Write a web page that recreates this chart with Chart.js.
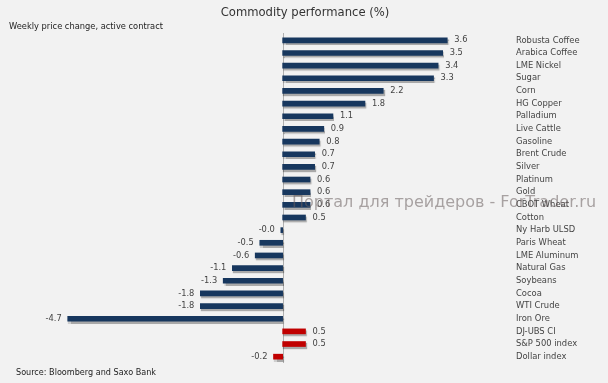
<!DOCTYPE html>
<html>
<head>
<meta charset="utf-8">
<script src="https://cdn.jsdelivr.net/npm/chart.js@4"></script>
<style>
html,body{margin:0;padding:0;background:#f2f2f2;}
#c{display:block;}
</style>
</head>
<body>
<canvas id="c" width="608" height="383"></canvas>
<script>
const categories = ["Robusta Coffee","Arabica Coffee","LME Nickel","Sugar","Corn","HG Copper","Palladium","Live Cattle","Gasoline","Brent Crude","Silver","Platinum","Gold","CBOT Wheat","Cotton","Ny Harb ULSD","Paris Wheat","LME Aluminum","Natural Gas","Soybeans","Cocoa","WTI Crude","Iron Ore","DJ-UBS CI","S&P 500 index","Dollar index"];
const values = [3.6,3.5,3.4,3.3,2.2,1.8,1.1,0.9,0.8,0.7,0.7,0.6,0.6,0.6,0.5,-0.04,-0.5,-0.6,-1.1,-1.3,-1.8,-1.8,-4.7,0.5,0.5,-0.2];
const groups = ["c","c","c","c","c","c","c","c","c","c","c","c","c","c","c","c","c","c","c","c","c","c","c","i","i","i"];
const titleText = "Commodity performance (%)";
const subtitleText = "Weekly price change, active contract";
const sourceText = "Source: Bloomberg and Saxo Bank";
const watermarkText = "Портал для трейдеров - ForTrader.ru";

const FONT = "'DejaVu Sans', sans-serif";

const decor = {
  id: 'decor',
  beforeDraw(chart) {
    const ctx = chart.ctx;
    ctx.save();
    ctx.fillStyle = '#f2f2f2';
    ctx.fillRect(0, 0, chart.width, chart.height);
    ctx.fillStyle = '#333';
    ctx.font = '11.6px ' + FONT;
    ctx.textAlign = 'center';
    ctx.textBaseline = 'middle';
    ctx.fillText(titleText, 305, 13);
    ctx.fillStyle = '#222';
    ctx.font = '8.3px ' + FONT;
    ctx.textAlign = 'left';
    ctx.fillText(subtitleText, 9, 27);
    ctx.font = '8.1px ' + FONT;
    ctx.fillText(sourceText, 16, 373);
    // zero line
    const x0 = chart.scales.x.getPixelForValue(0);
    ctx.strokeStyle = '#b0b0b0';
    ctx.lineWidth = 1;
    ctx.beginPath();
    ctx.moveTo(Math.round(x0) + 0.5, chart.chartArea.top - 1);
    ctx.lineTo(Math.round(x0) + 0.5, chart.chartArea.bottom);
    ctx.stroke();
    ctx.restore();
  },
  beforeDatasetsDraw(chart) {
    const ctx = chart.ctx;
    ctx.save();
    ctx.shadowColor = 'rgba(0,0,0,0.3)';
    ctx.shadowOffsetX = 1;
    ctx.shadowOffsetY = 2;
    ctx.shadowBlur = 1;
  },
  afterDatasetsDraw(chart) {
    const ctx = chart.ctx;
    ctx.restore();
    ctx.save();
    const meta = chart.getDatasetMeta(0);
    ctx.font = '8.3px ' + FONT;
    ctx.fillStyle = '#444';
    ctx.textBaseline = 'middle';
    meta.data.forEach((bar, i) => {
      const v = values[i];
      const t = v.toFixed(1);
      if (v >= 0) {
        ctx.textAlign = 'left';
        ctx.fillText(t, bar.x + 7, bar.y);
      } else {
        ctx.textAlign = 'right';
        ctx.fillText(t, bar.x - 6, bar.y);
      }
    });
    ctx.restore();
  },
  afterDraw(chart) {
    const ctx = chart.ctx;
    ctx.save();
    ctx.font = '16px ' + FONT;
    ctx.fillStyle = 'rgba(105,95,95,0.55)';
    ctx.textAlign = 'left';
    ctx.textBaseline = 'middle';
    ctx.fillText(watermarkText, 292, 203);
    ctx.restore();
  }
};

new Chart(document.getElementById('c'), {
  type: 'bar',
  data: {
    labels: categories,
    datasets: [{
      data: values,
      backgroundColor: groups.map(g => g === 'i' ? '#c00000' : '#17375e'),
      barThickness: 5
    }]
  },
  options: {
    responsive: false,
    animation: false,
    devicePixelRatio: 1,
    indexAxis: 'y',
    layout: { padding: { left: 54, top: 34, bottom: 20, right: 0 } },
    plugins: { legend: { display: false }, tooltip: { enabled: false }, title: { display: false } },
    scales: {
      x: { display: false, min: -5.0, max: 4.6 },
      y: {
        position: 'right',
        grid: { display: false, drawTicks: false },
        border: { display: false },
        ticks: { color: '#444', font: { family: FONT, size: 8.4 }, padding: 23, autoSkip: false },
        afterFit(scale) { scale.width = 115; scale.paddingTop = 0; scale.paddingBottom = 0; }
      }
    }
  },
  plugins: [decor]
});
</script>
</body>
</html>
